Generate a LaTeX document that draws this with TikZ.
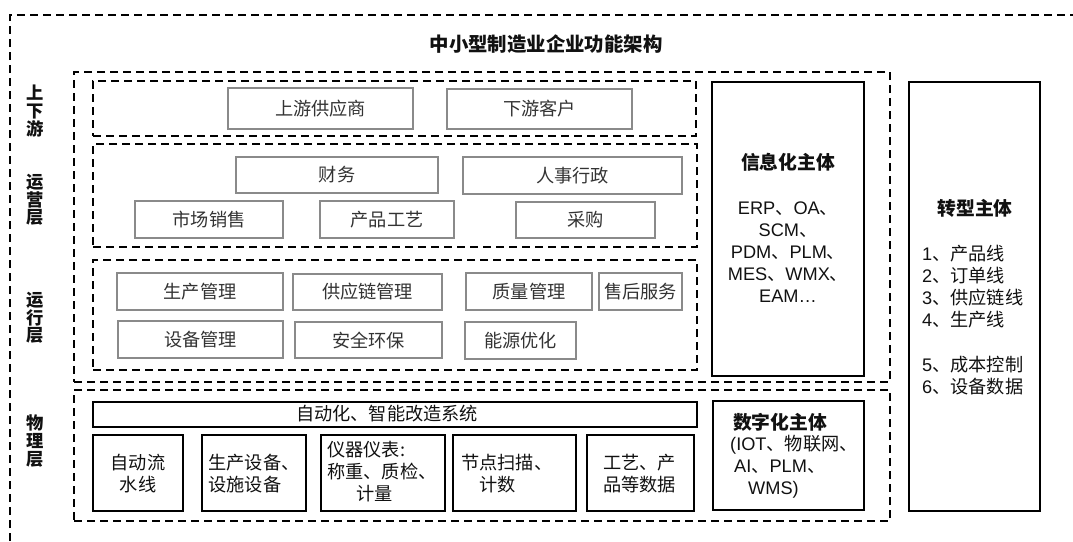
\documentclass[tikz,border=0pt]{standalone}
\usepackage{fontspec}
\setmainfont{Noto Sans CJK SC}
\newfontfamily\lat{Liberation Sans}
\usetikzlibrary{fit}
\definecolor{gborder}{HTML}{8A8A8A}
\definecolor{gtext}{HTML}{333333}
\definecolor{btext}{HTML}{111111}
\newcommand{\fsn}{\fontsize{18.2}{22}\selectfont}
\newcommand{\fsb}{\bfseries\fontsize{18.8}{22}\selectfont}
\tikzset{
  gbox/.style={draw=gborder, line width=1.4pt, inner sep=0pt},
  gl/.style={text=gtext, font=\fsn, inner sep=0pt},
  bbox/.style={draw=black, line width=1.8pt, inner sep=0pt},
  dbox/.style={draw=black, line width=1.5pt, dash pattern=on 8pt off 5pt, inner sep=0pt},
  lbl/.style={align=center, font=\bfseries\fontsize{17.3}{17.6}\selectfont, text=btext},
  txt/.style={font=\fsn, text=btext, inner sep=0pt},
  btxt/.style={font=\fsb, text=btext, inner sep=0pt},
}
\begin{document}
\begin{tikzpicture}[x=1pt,y=-1pt]
\useasboundingbox (0,0) rectangle (1073,541);
% outer frame (top and left visible)
\coordinate (o1) at (10,541);
\coordinate (o2) at (10,15);
\coordinate (o3) at (1073,15);
\draw[line width=1.5pt, dash pattern=on 8pt off 5pt] (o1) -- (o2) -- (o3);
% title
\node[font=\bfseries\fontsize{19.4}{22}\selectfont, text=btext] (title) at (546,44) {中小型制造业企业功能架构};
% left labels
\node[lbl] (l1) at (35,111) {上\\下\\游};
\node[lbl] (l2) at (35,200) {运\\营\\层};
\node[lbl] (l3) at (35,318) {运\\行\\层};
\node[lbl] (l4) at (35,441) {物\\理\\层};
% dashed containers
\node[dbox, fit={(74,72) (890,382)}] (upper) {};
\node[dbox, fit={(74,390) (890,521)}] (lower) {};
\node[dbox, fit={(93,81) (696,136)}] (dA) {};
\node[dbox, fit={(93,144) (697,247)}] (dB) {};
\node[dbox, fit={(93,260) (697,370)}] (dC) {};
% upstream/downstream
\node[gbox, fit={(228,88) (413,129)}, label={[gl]center:上游供应商}] (up) {};
\node[gbox, fit={(447,89) (632,129)}, label={[gl]center:下游客户}] (down) {};
% operations
\node[gbox, fit={(236,157) (438,193)}, label={[gl]center:财务}] (fin) {};
\node[gbox, fit={(463,157) (682,194)}, label={[gl]center:人事行政}] (hr) {};
\node[gbox, fit={(135,201) (283,238)}, label={[gl]center:市场销售}] (mkt) {};
\node[gbox, fit={(320,201) (454,238)}, label={[gl]center:产品工艺}] (prd) {};
\node[gbox, fit={(516,202) (655,238)}, label={[gl]center:采购}] (pur) {};
% running layer
\node[gbox, fit={(117,273) (283,310)}, label={[gl]center:生产管理}] (pm) {};
\node[gbox, fit={(293,274) (442,310)}, label={[gl]center:供应链管理}] (scm) {};
\node[gbox, fit={(466,273) (592,310)}, label={[gl]center:质量管理}] (qm) {};
\node[gbox, fit={(599,273) (682,310)}, label={[gl]center:售后服务}] (as) {};
\node[gbox, fit={(118,321) (283,358)}, label={[gl]center:设备管理}] (em) {};
\node[gbox, fit={(295,322) (442,358)}, label={[gl]center:安全环保}] (se) {};
\node[gbox, fit={(465,322) (576,359)}, label={[gl]center:能源优化}] (en) {};
% physical layer
\node[bbox, fit={(93,402) (697,427)}] (auto) {};
\node[txt] (autot) at (387,414) {自动化、智能改造系统};
\node[bbox, fit={(93,435) (183,511)}] (p1) {};
\node[txt, align=center] (p1t) at (138,474) {自动流\\水线};
\node[bbox, fit={(202,435) (306,511)}] (p2) {};
\node[txt, align=left] (p2t) at (254,474) {生产设备、\\设施设备};
\node[bbox, fit={(321,435) (445,511)}] (p3) {};
\node[txt, align=left, anchor=west] (p3t) at (327,472) {仪器仪表:\\称重、质检、\\\hspace{29pt}计量};
\node[bbox, fit={(453,435) (576,511)}] (p4) {};
\node[txt, align=left, anchor=west] (p4t) at (461,474) {节点扫描、\\\hspace{18pt}计数};
\node[bbox, fit={(587,435) (694,511)}] (p5) {};
\node[txt, align=left, anchor=west] (p5t) at (603,474) {工艺、产\\品等数据};
% info box
\node[bbox, fit={(712,82) (864,376)}] (info) {};
\node[btxt] (infot) at (788,162) {信息化主体};
\node[txt, align=center] (infol) at (788,252) {{\lat ERP}、{\lat OA}、\\{\lat SCM}、\\{\lat PDM}、{\lat PLM}、\\{\lat MES}、{\lat WMX}、\\{\lat EAM…}};
% digital box
\node[bbox, fit={(713,401) (864,510)}] (dig) {};
\node[btxt] (digt) at (780,422) {数字化主体};
\node[txt, align=left, anchor=west] (digl) at (730,467) {{\lat (IOT}、物联网、\\\hspace{4pt}{\lat AI}、{\lat PLM}、\\\hspace{18pt}{\lat WMS)}};
% transformation box
\node[bbox, fit={(909,82) (1040,511)}] (tr) {};
\node[btxt] (trt) at (975,208) {转型主体};
\node[txt, align=left, anchor=west] (trl) at (922,320) {{\lat 1}、产品线\\{\lat 2}、订单线\\{\lat 3}、供应链线\\{\lat 4}、生产线\\[23pt]{\lat 5}、成本控制\\{\lat 6}、设备数据};
\end{tikzpicture}
\end{document}
